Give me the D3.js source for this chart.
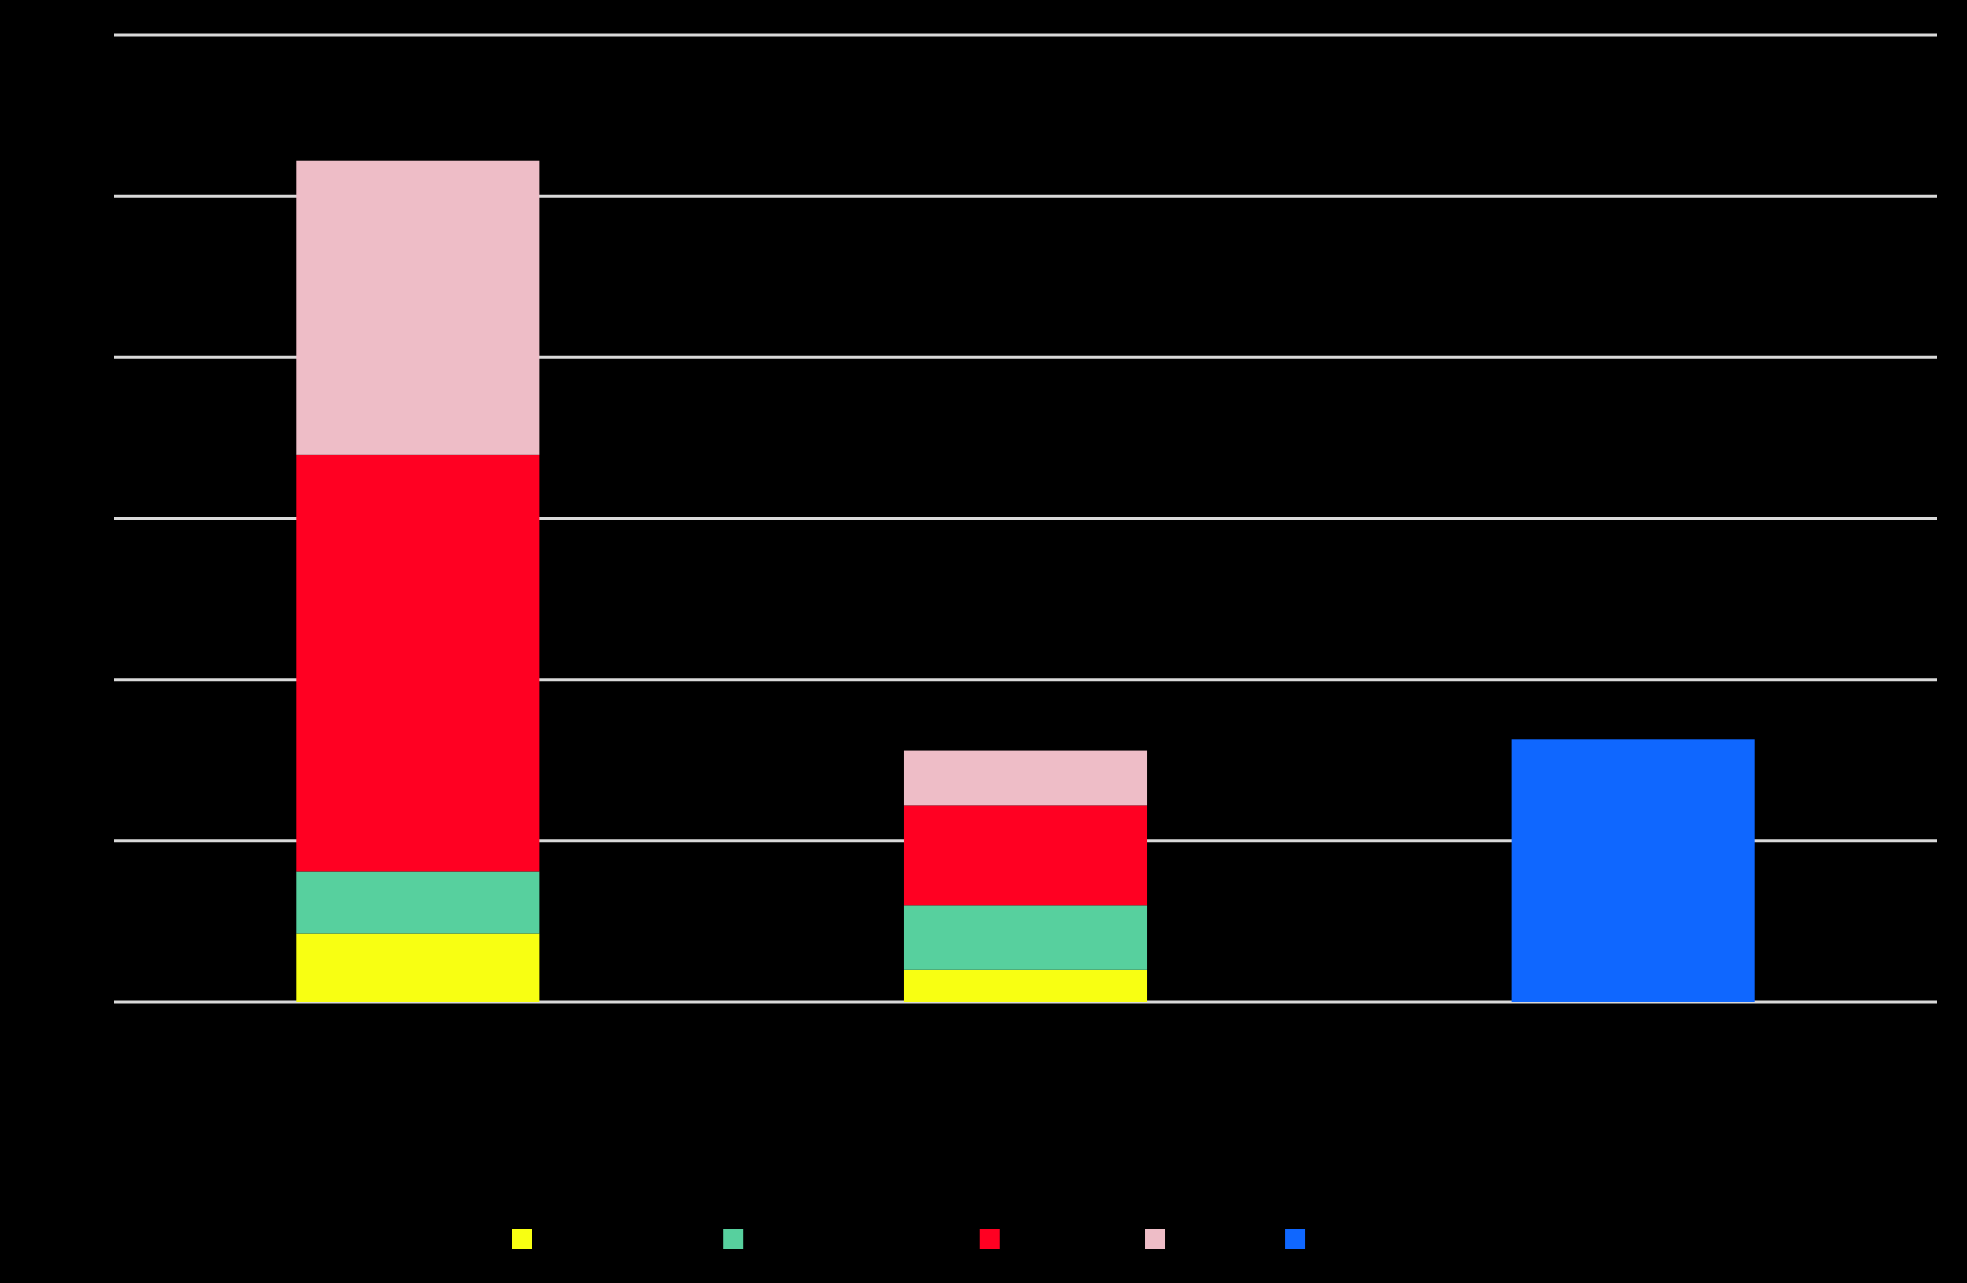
<!DOCTYPE html>
<html>
<head>
<meta charset="utf-8">
<script src="https://cdn.jsdelivr.net/npm/d3@7/dist/d3.min.js"></script>
<style>
  html, body { margin: 0; padding: 0; background: #000; }
  svg { display: block; }
  text { font-family: "Liberation Sans", Arial, sans-serif; }
</style>
</head>
<body>
<svg id="chart" width="1967" height="1283"></svg>
<script>
// ---- data ----
const categories = ["Category A", "Category B", "Category C"];
const seriesNames = ["Series one label xyz", "Series two label here abcd", "Series threeA", "Series 4th", "Series five"];
const seriesColors = ["#f8ff12", "#57d09e", "#ff0022", "#eebdc7", "#0f67ff"];
const series1 = [4.25, 2.0, 0];
const series2 = [3.85, 4.0, 0];
const series3 = [25.85, 6.2, 0];
const series4 = [18.25, 3.4, 0];
const series5 = [0, 0, 16.3];
const yTicks = [0, 10, 20, 30, 40, 50, 60];

const allSeries = [series1, series2, series3, series4, series5];
const table = categories.map((c, i) => {
  const row = { category: c };
  seriesNames.forEach((s, j) => { row[s] = allSeries[j][i]; });
  return row;
});

// ---- layout ----
const svg = d3.select("#chart");
const margin = { left: 114, right: 30, top: 35, bottom: 281 };
const W = 1967, H = 1283;

const x = d3.scaleBand()
  .domain(categories)
  .range([margin.left, W - margin.right])
  .paddingInner(0.6)
  .paddingOuter(0.3);

const y = d3.scaleLinear()
  .domain([0, 60])
  .range([H - margin.bottom, margin.top]);

// gridlines
svg.append("g")
  .selectAll("line")
  .data(yTicks)
  .join("line")
  .attr("x1", margin.left)
  .attr("x2", W - margin.right)
  .attr("y1", d => y(d))
  .attr("y2", d => y(d))
  .attr("stroke", "#d9d9d9")
  .attr("stroke-width", 3);

// left axis labels (black, as in reference)
const yAxis = d3.axisLeft(y).tickValues(yTicks).tickSize(0).tickPadding(10);
const gy = svg.append("g").attr("transform", `translate(${margin.left},0)`).call(yAxis);
gy.select(".domain").remove();
gy.selectAll("text").attr("fill", "#000").attr("font-size", 16);

// stacked bars
const stack = d3.stack().keys(seriesNames);
const stacked = stack(table);

svg.append("g")
  .selectAll("g")
  .data(stacked)
  .join("g")
  .attr("fill", (d, i) => seriesColors[i])
  .selectAll("rect")
  .data(d => d.filter(p => p[1] - p[0] > 0))
  .join("rect")
  .attr("x", d => x(d.data.category))
  .attr("width", x.bandwidth())
  .attr("y", d => y(d[1]))
  .attr("height", d => y(d[0]) - y(d[1]));

// category axis labels (black)
const xAxis = d3.axisBottom(x).tickSize(0).tickPadding(16);
const gx = svg.append("g").attr("transform", `translate(0,${y(0)})`).call(xAxis);
gx.select(".domain").remove();
gx.selectAll("text").attr("fill", "#000").attr("font-size", 16);

// legend
const legend = svg.append("g");
const items = legend.selectAll("g")
  .data(seriesNames)
  .join("g");
items.append("rect")
  .attr("width", 20)
  .attr("height", 20)
  .attr("fill", (d, i) => seriesColors[i]);
items.append("text")
  .attr("x", 28)
  .attr("y", 16)
  .attr("fill", "#000")
  .attr("font-size", 16)
  .text(d => d);
let cx = 0;
const gap = 40;
items.each(function () {
  const w = this.getBBox().width;
  d3.select(this).attr("transform", `translate(${cx},0)`);
  cx += w + gap;
});
legend.attr("transform", `translate(512,1229)`);
</script>
</body>
</html>
